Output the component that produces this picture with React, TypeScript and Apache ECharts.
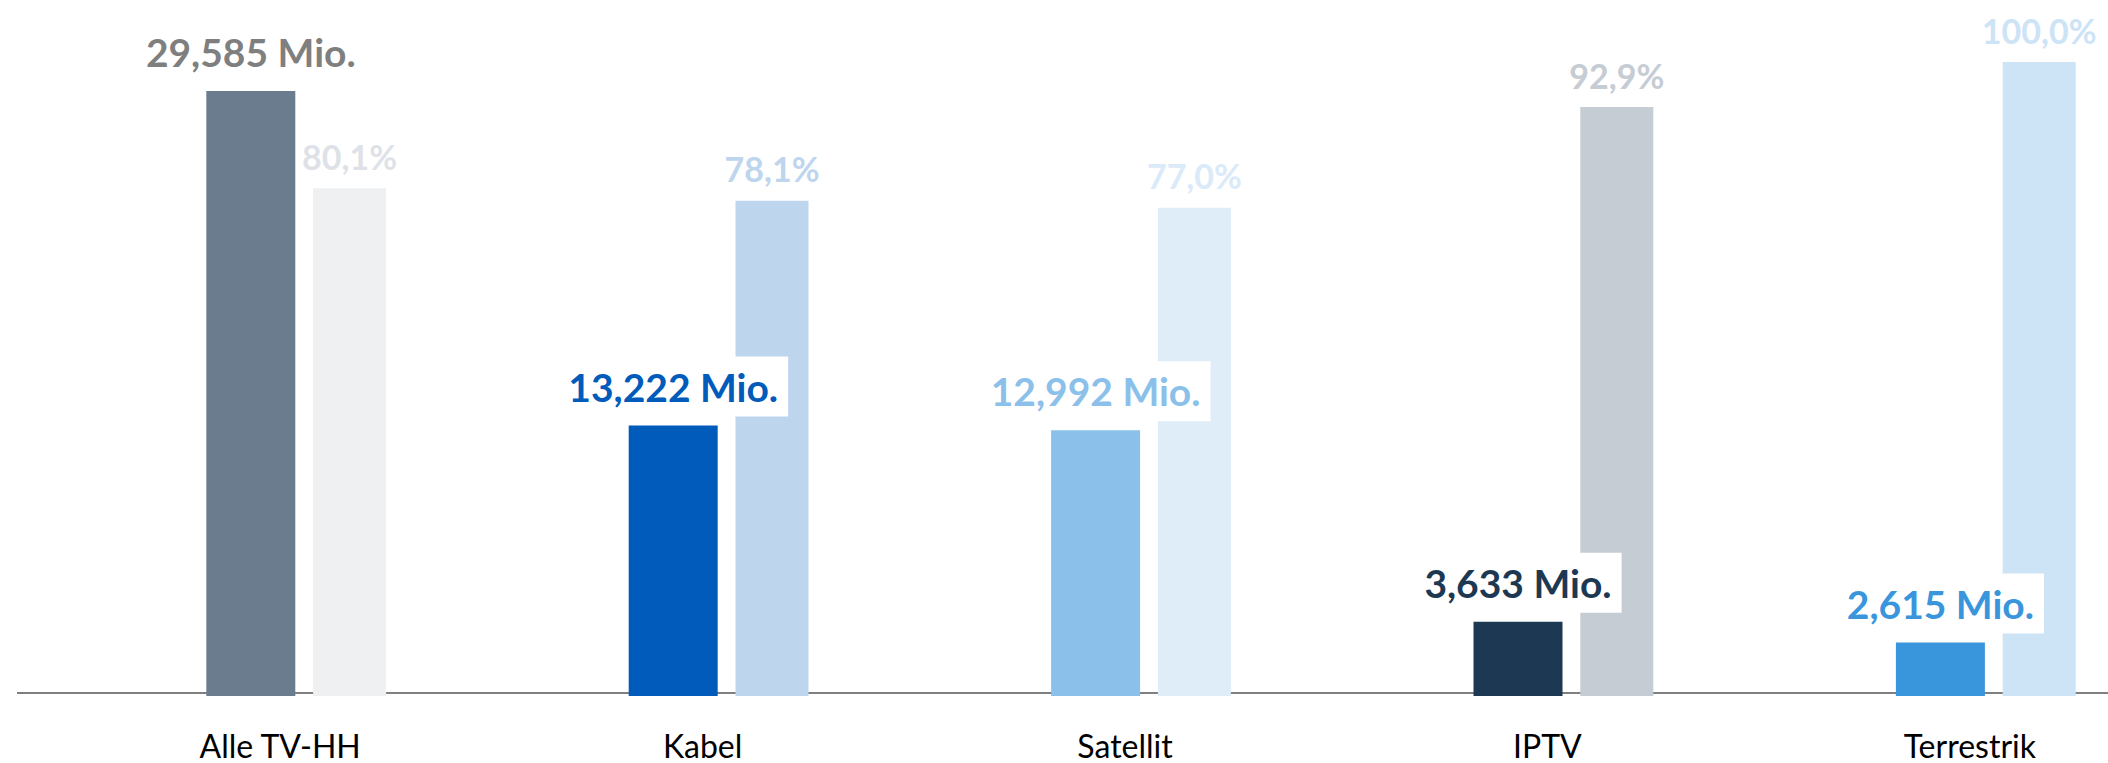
import React, { useEffect, useRef } from "react";
import * as echarts from "echarts";

const categories = ["Alle TV-HH", "Kabel", "Satellit", "IPTV", "Terrestrik"];
const households = [29.585, 13.222, 12.992, 3.633, 2.615];
const shares = [80.1, 78.1, 77.0, 92.9, 100.0];

const householdColors = ["#6B7C8F", "#005BBB", "#8BC0EA", "#1C3853", "#3A96DC"];
const householdLabelColors = ["#7F7F7F", "#005BBB", "#8BC0EA", "#1C3853", "#3A96DC"];
const shareColors = ["#EFF0F2", "#BED5EE", "#DFEDF8", "#C5CCD3", "#CDE3F6"];
const shareLabelColors = ["#DEE2E8", "#BED5EE", "#DAEAF8", "#C5CCD3", "#CDE3F6"];

const FONT = "Lato, 'Noto Sans', sans-serif";

export default function App() {
  const ref = useRef<HTMLDivElement>(null);

  useEffect(() => {
    if (!ref.current) return;
    const chart = echarts.init(ref.current, undefined, { renderer: "svg" });
    const option: any = {
      animation: false,
      backgroundColor: "#ffffff",
      grid: {
        left: 85,
        width: 2112,
        top: 62,
        height: 634,
        containLabel: false,
        outerBoundsMode: "none",
      },
      xAxis: {
        type: "category",
        data: categories,
        axisLine: { show: false },
        axisTick: { show: false },
        splitLine: { show: false },
        axisLabel: {
          interval: 0,
          margin: 36,
          color: "#000000",
          fontFamily: FONT,
          fontSize: 32,
          lineHeight: 26,
          padding: [0, 32, 0, 0],
        },
      },
      yAxis: [
        { type: "value", min: 0, max: 31, show: false, splitLine: { show: false } },
        { type: "value", min: 0, max: 100, show: false, splitLine: { show: false } },
      ],
      graphic: [
        {
          type: "line",
          z: 0,
          shape: { x1: 17, y1: 693, x2: 2108, y2: 693 },
          style: { stroke: "#7F7F7F", lineWidth: 2 },
        },
      ],
      series: [
        {
          type: "bar",
          name: "Haushalte",
          yAxisIndex: 0,
          barWidth: 89,
          barGap: "20%",
          z: 3,
          data: households.map((v, i) => ({
            value: v,
            itemStyle: { color: householdColors[i] },
            label: { color: householdLabelColors[i] },
          })),
          label: {
            show: true,
            position: "top",
            distance: 9,
            fontFamily: FONT,
            fontWeight: "bold",
            fontSize: 39,
            lineHeight: 40,
            backgroundColor: "#ffffff",
            padding: [10, 10, 10, 10],
            formatter: (p: any) => p.value.toFixed(3).replace(".", ",") + " Mio.",
          },
        },
        {
          type: "bar",
          name: "Anteil",
          yAxisIndex: 1,
          barWidth: 73,
          barGap: "20%",
          z: 2,
          data: shares.map((v, i) => ({
            value: v,
            itemStyle: { color: shareColors[i] },
            label: { color: shareLabelColors[i] },
          })),
          label: {
            show: true,
            position: "top",
            distance: 15,
            fontFamily: FONT,
            fontWeight: "bold",
            fontSize: 34,
            lineHeight: 34,
            formatter: (p: any) => p.value.toFixed(1).replace(".", ",") + "%",
          },
        },
      ],
    };
    chart.setOption(option);
    return () => chart.dispose();
  }, []);

  return (
    <div
      ref={ref}
      style={{ position: "fixed", left: 0, top: 0, width: 2108, height: 763, background: "#fff" }}
    />
  );
}
